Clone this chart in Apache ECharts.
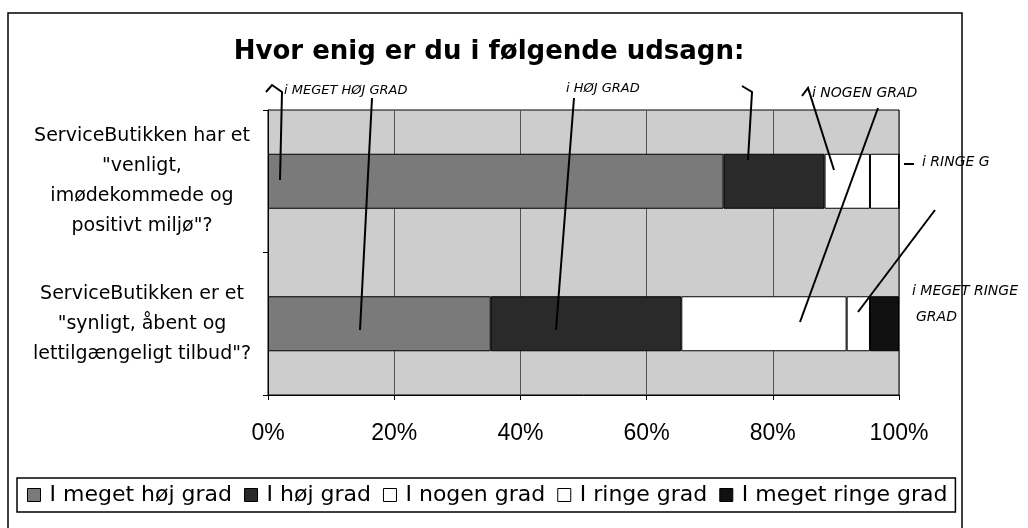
<!DOCTYPE html>
<html>
<head>
<meta charset="utf-8">
<script src="https://cdn.jsdelivr.net/npm/echarts@6/dist/echarts.min.js"></script>
<style>
html,body{margin:0;padding:0;background:#fff;}
#c{width:1028px;height:528px;}
</style>
</head>
<body>
<div id="c"></div>
<script>
var categories = [
  'ServiceButikken har et\n"venligt,\nimødekommede og\npositivt miljø"?',
  'ServiceButikken er et\n"synligt, åbent og\nlettilgængeligt tilbud"?'
];
var seriesNames = ['I meget høj grad', 'I høj grad', 'I nogen grad', 'I ringe grad', 'I meget ringe grad'];
var megetHoej = [72.2, 35.3];
var hoej = [16.0, 30.2];
var nogen = [7.2, 26.2];
var ringe = [4.6, 3.7];
var megetRinge = [0, 4.6];
var xTicks = [0, 20, 40, 60, 80, 100];

var seriesData = [megetHoej, hoej, nogen, ringe, megetRinge];
var seriesColors = ['#7a7a7a', '#2a2a2a', '#ffffff', '#ffffff', '#111111'];

var chart = echarts.init(document.getElementById('c'));
var FONT = '"Liberation Sans", Arial, sans-serif';
var WIDE = '"DejaVu Sans", sans-serif';

function hand(x, y, t, s) {
  return {type: 'text', left: x, top: y, z: 100,
    style: {text: t, font: 'italic ' + (s || 13) + 'px ' + WIDE, fill: '#000'}};
}
function pen(pts) {
  return {type: 'polyline', z: 100, shape: {points: pts},
    style: {stroke: '#000', lineWidth: 2, fill: null}};
}

chart.setOption({
  backgroundColor: '#ffffff',
  animation: false,
  title: {
    text: 'Hvor enig er du i følgende udsagn:',
    left: 484, top: 34, textAlign: 'center',
    textStyle: {fontFamily: WIDE, fontSize: 26, fontWeight: 'bold', color: '#000'}
  },
  legend: {
    data: seriesNames,
    left: 17, top: 478,
    padding: [6, 8, 6, 10],
    itemWidth: 13, itemHeight: 13, itemGap: 12,
    borderColor: '#000', borderWidth: 1.5,
    icon: 'rect',
    itemStyle: {borderColor: '#000', borderWidth: 1},
    textStyle: {fontFamily: WIDE, fontSize: 22, color: '#000', padding: [0, 0, 0, 4]}
  },
  grid: {
    left: 268, right: 129, top: 110, bottom: 133,
    show: true, backgroundColor: '#cdcdcd', borderColor: '#000', borderWidth: 1
  },
  xAxis: {
    type: 'value', min: 0, max: 100, interval: 20,
    axisLine: {show: true, lineStyle: {color: '#000'}},
    axisTick: {show: true, length: 5, lineStyle: {color: '#000'}},
    splitLine: {show: true, lineStyle: {color: '#555', width: 1}},
    axisLabel: {
      formatter: function (v) { return xTicks.indexOf(v) >= 0 ? v + '%' : ''; },
      fontFamily: FONT, fontSize: 23, color: '#000', margin: 27
    }
  },
  yAxis: {
    type: 'category', data: categories, inverse: true,
    axisLine: {show: true, lineStyle: {color: '#000'}},
    axisTick: {show: true, length: 5, lineStyle: {color: '#000'}},
    axisLabel: {
      fontFamily: WIDE, fontSize: 19, color: '#000', align: 'center',
      margin: 126, lineHeight: 30
    }
  },
  series: seriesNames.map(function (n, i) {
    return {
      name: n, type: 'bar', stack: 'all', barWidth: 55,
      data: seriesData[i],
      itemStyle: {color: seriesColors[i], borderColor: '#000', borderWidth: 1}
    };
  }),
  graphic: [
    {type: 'rect', z: -1, shape: {x: 8, y: 13, width: 954, height: 530},
      style: {fill: null, stroke: '#000', lineWidth: 1.5}},
    hand(284, 84, 'i MEGET HØJ GRAD', 13),
    hand(566, 82, 'i HØJ GRAD', 13),
    hand(812, 86, 'i NOGEN GRAD', 14),
    hand(922, 155, 'i RINGE G', 14),
    hand(912, 284, 'i MEGET RINGE', 14),
    hand(916, 310, 'GRAD', 14),
    pen([[266, 92], [272, 85], [282, 92], [280, 180]]),
    pen([[372, 98], [360, 330]]),
    pen([[574, 98], [556, 330]]),
    pen([[742, 86], [752, 92], [748, 160]]),
    pen([[802, 96], [808, 88], [834, 170]]),
    pen([[878, 108], [800, 322]]),
    pen([[904, 164], [914, 164]]),
    pen([[935, 210], [858, 312]])
  ]
});
</script>
</body>
</html>
